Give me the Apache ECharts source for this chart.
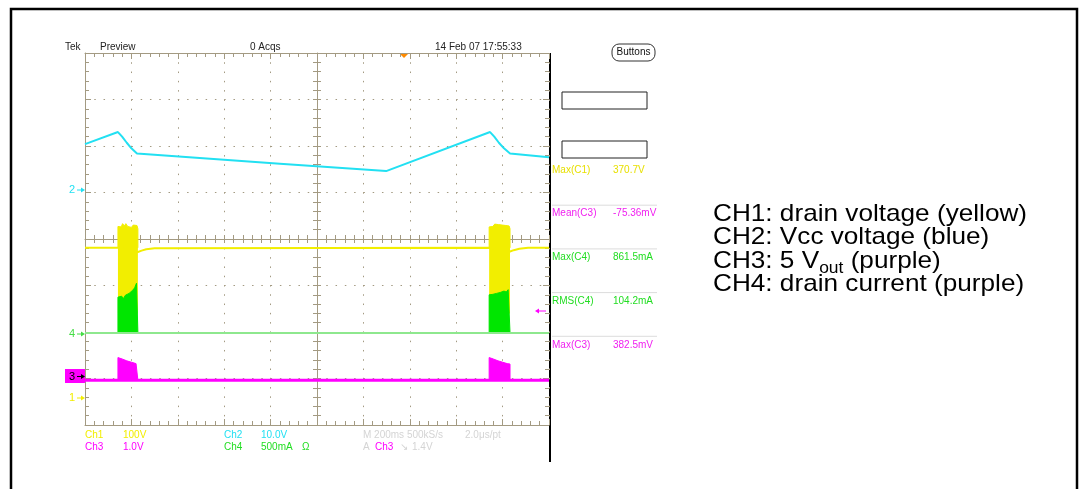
<!DOCTYPE html>
<html>
<head>
<meta charset="utf-8">
<title>Startup waveforms</title>
<script src="https://cdn.jsdelivr.net/npm/echarts@6.0.0/dist/echarts.min.js"></script>
<style>
html, body { margin: 0; padding: 0; background: #fff; }
#main { width: 1084px; height: 489px; }
</style>
</head>
<body>
<div id="main"></div>
<script>
// scope screen: 10 x 8 divisions, values are in divisions from the screen centre
var xRange = [0, 10];
var yRange = [-4, 4];

// CH2 (Vcc, blue)
var ch2Vcc = [[0, 2.04], [0.71, 2.30], [0.80, 2.20], [0.90, 2.07], [1.00, 1.95], [1.12, 1.84],
  [4.20, 1.62], [6.49, 1.46], [8.73, 2.30], [8.82, 2.20], [8.92, 2.07], [9.03, 1.95],
  [9.16, 1.84], [10, 1.76]];

// CH1 (drain voltage, yellow)
var ch1Base = [[0, -0.19], [0.71, -0.19], [1.14, -0.28], [1.22, -0.25], [1.32, -0.22],
  [1.50, -0.20], [8.71, -0.19], [9.16, -0.27], [9.24, -0.24], [9.36, -0.21], [9.55, -0.19], [10, -0.19]];
var ch1Burst1 = [[0.71, -0.19], [0.71, 0.27], [0.75, 0.31], [0.78, 0.26], [0.81, 0.33], [0.85, 0.28],
  [0.88, 0.33], [0.92, 0.27], [0.96, 0.31], [1.00, 0.25], [1.04, 0.30], [1.08, 0.27], [1.12, 0.29],
  [1.14, 0.22], [1.14, -0.19]];
var ch1Burst2 = [[8.71, -0.19], [8.71, 0.26], [8.75, 0.30], [8.79, 0.27], [8.83, 0.32], [8.87, 0.28],
  [8.91, 0.31], [8.95, 0.27], [8.99, 0.30], [9.03, 0.26], [9.07, 0.29], [9.11, 0.27], [9.14, 0.28],
  [9.16, 0.22], [9.16, -0.19]];

// CH4 (drain current, green)
var ch4Base = [[0, -2.02], [10, -2.02]];
var ch4Burst1 = [[0.71, -2.02], [0.71, -1.25], [0.75, -1.29], [0.79, -1.23], [0.83, -1.28], [0.87, -1.21],
  [0.91, -1.24], [0.95, -1.17], [0.99, -1.20], [1.03, -1.10], [1.07, -1.05], [1.11, -0.95],
  [1.14, -0.92], [1.14, -2.02]];
var ch4Burst2 = [[8.71, -2.02], [8.71, -1.20], [8.75, -1.24], [8.79, -1.19], [8.83, -1.23], [8.87, -1.17],
  [8.91, -1.20], [8.95, -1.15], [8.99, -1.18], [9.03, -1.12], [9.08, -1.14], [9.12, -1.09],
  [9.16, -1.08], [9.16, -2.02]];

// CH3 (5 Vout, purple)
var ch3Base = [[0, -3.04], [10, -3.04]];
var ch3Burst1 = [[0.71, -3.04], [0.71, -2.55], [0.80, -2.58], [0.90, -2.62], [1.00, -2.65],
  [1.10, -2.68], [1.14, -2.69], [1.14, -3.04]];
var ch3Burst2 = [[8.71, -3.04], [8.71, -2.55], [8.80, -2.58], [8.90, -2.62], [9.00, -2.65],
  [9.10, -2.68], [9.16, -2.69], [9.16, -3.04]];

// measurement panel
var measLabels = ['Max(C1)', 'Mean(C3)', 'Max(C4)', 'RMS(C4)', 'Max(C3)'];
var measValues = ['370.7V', '-75.36mV', '861.5mA', '104.2mA', '382.5mV'];
var measColors = ['#e8e000', '#f020f0', '#22dd22', '#22dd22', '#f020f0'];

// side notes
var notes = ['CH1: drain voltage (yellow)', 'CH2: Vcc voltage (blue)', 'CH3: 5 V|out| (purple)', 'CH4: drain current (purple)'];

var YELLOW = '#f2ee00', CYAN = '#22e0f2', GREEN = '#00e600', PALEGREEN = '#8ee88e', MAGENTA = '#ff00ff';
var GRID = '#a39a82';
var FONT = '"Liberation Sans", Arial, sans-serif';

function xAx(pos, offset, inside, tickLen, showLine, split) {
  return {
    type: 'value', min: xRange[0], max: xRange[1], interval: 1, position: pos, offset: offset,
    axisLine: { show: showLine, onZero: false, lineStyle: { color: GRID, width: 1 } },
    axisTick: { show: true, inside: inside, length: tickLen, lineStyle: { color: GRID } },
    minorTick: { show: true, splitNumber: 5, length: 4, lineStyle: { color: GRID } },
    axisLabel: { show: false },
    splitLine: { show: split, lineStyle: { color: GRID, width: 1, type: [1.5, 7.78] } },
    minorSplitLine: { show: false }
  };
}
function yAx(pos, offset, inside, tickLen, showLine, split) {
  var a = xAx(pos, offset, inside, tickLen, showLine, split);
  a.min = yRange[0]; a.max = yRange[1];
  return a;
}

function trace(data, color, width) {
  return { type: 'line', data: data, symbol: 'none', silent: true,
    lineStyle: { color: color, width: width }, itemStyle: { color: color } };
}
function burst(data, color, base) {
  return { type: 'line', data: data, symbol: 'none', silent: true,
    lineStyle: { color: color, width: 1 }, itemStyle: { color: color },
    areaStyle: { color: color, opacity: 1, origin: base } };
}

function txt(x, y, s, color, size, align) {
  return { type: 'text', x: x, y: y, silent: true,
    style: { text: s, fill: color, font: size + 'px ' + FONT, align: align || 'left', verticalAlign: 'middle' } };
}
// little "n ->" ground marker on the left of the screen
function marker(y, label, color) {
  return [
    txt(75, y, label, color, 11, 'right'),
    { type: 'line', silent: true, shape: { x1: 77, y1: y, x2: 82, y2: y }, style: { stroke: color, lineWidth: 1 } },
    { type: 'polygon', silent: true, shape: { points: [[81, y - 2.5], [85, y], [81, y + 2.5]] }, style: { fill: color } }
  ];
}

var graphics = [];
// outer figure frame
graphics.push({ type: 'rect', shape: { x: 11, y: 9, width: 1066, height: 500 },
  style: { fill: 'none', stroke: '#000', lineWidth: 2.5 } });
// header
graphics.push(txt(65, 47, 'Tek', '#222', 10));
graphics.push(txt(100, 47, 'Preview', '#222', 10));
graphics.push(txt(250, 47, '0 Acqs', '#222', 10));
graphics.push(txt(435, 47, '14 Feb 07 17:55:33', '#222', 10));
graphics.push({ type: 'rect', shape: { x: 612, y: 44, width: 43, height: 17, r: 7 },
  style: { fill: '#fff', stroke: '#333', lineWidth: 1 } });
graphics.push(txt(633.5, 52.5, 'Buttons', '#111', 10, 'center'));
// trigger position marker
graphics.push({ type: 'polygon', shape: { points: [[399, 53], [409, 53], [404, 58]] }, style: { fill: '#ff8a00' } });
// panel separator
graphics.push({ type: 'line', shape: { x1: 550, y1: 53, x2: 550, y2: 462 }, style: { stroke: '#000', lineWidth: 2 } });
graphics.push({ type: 'rect', shape: { x: 562, y: 92, width: 85, height: 17 }, style: { fill: '#fff', stroke: '#222', lineWidth: 1 } });
graphics.push({ type: 'rect', shape: { x: 562, y: 141, width: 85, height: 17 }, style: { fill: '#fff', stroke: '#222', lineWidth: 1 } });
// measurements
for (var i = 0; i < measLabels.length; i++) {
  var my = 170 + i * 43.7;
  graphics.push(txt(552, my, measLabels[i], measColors[i], 10));
  graphics.push(txt(613, my, measValues[i], measColors[i], 10));
  if (i > 0) {
    graphics.push({ type: 'line', shape: { x1: 552, y1: my - 8.5, x2: 657, y2: my - 8.5 },
      style: { stroke: '#dcdcdc', lineWidth: 1 } });
  }
}
// channel ground markers
graphics = graphics.concat(marker(190, '2', CYAN));
graphics = graphics.concat(marker(334, '4', '#44dd44'));
graphics.push({ type: 'rect', shape: { x: 65, y: 369, width: 20, height: 14 }, style: { fill: MAGENTA } });
graphics = graphics.concat(marker(376.5, '3', '#000'));
graphics = graphics.concat(marker(398, '1', YELLOW));
// trigger level arrow
graphics.push({ type: 'line', shape: { x1: 538, y1: 311, x2: 546, y2: 311 }, style: { stroke: MAGENTA, lineWidth: 1 } });
graphics.push({ type: 'polygon', shape: { points: [[535, 311], [539, 308.5], [539, 313.5]] }, style: { fill: MAGENTA } });
// bottom readout
graphics.push(txt(85, 435, 'Ch1', YELLOW, 10));
graphics.push(txt(123, 435, '100V', YELLOW, 10));
graphics.push(txt(224, 435, 'Ch2', CYAN, 10));
graphics.push(txt(261, 435, '10.0V', CYAN, 10));
graphics.push(txt(363, 435, 'M 200ms 500kS/s', '#d4d4d4', 10));
graphics.push(txt(465, 435, '2.0\u03bcs/pt', '#d4d4d4', 10));
graphics.push(txt(85, 447, 'Ch3', MAGENTA, 10));
graphics.push(txt(123, 447, '1.0V', MAGENTA, 10));
graphics.push(txt(224, 447, 'Ch4', '#22dd22', 10));
graphics.push(txt(261, 447, '500mA', '#22dd22', 10));
graphics.push(txt(302, 447, '\u03a9', '#22dd22', 10));
graphics.push(txt(363, 447, 'A', '#d4d4d4', 10));
graphics.push(txt(375, 447, 'Ch3', MAGENTA, 10));
graphics.push(txt(400, 447, '\u2198', '#d4d4d4', 10));
graphics.push(txt(412, 447, '1.4V', '#d4d4d4', 10));
// side notes
for (var k = 0; k < notes.length; k++) {
  var parts = notes[k].split('|');
  var rt = '{a|' + parts[0] + '}' + (parts.length > 1 ? '{s|' + parts[1] + '}{a|' + parts[2] + '}' : '');
  graphics.push({ type: 'text', x: 713, y: 214 + k * 23.6, scaleX: 1.09, silent: true,
    style: { text: rt, align: 'left', verticalAlign: 'middle',
      rich: {
        a: { fontSize: 24, fontFamily: FONT, fill: '#000', lineHeight: 30 },
        s: { fontSize: 16, fontFamily: FONT, fill: '#000', lineHeight: 16, verticalAlign: 'bottom' }
      } } });
}

var chart = echarts.init(document.getElementById('main'));
chart.setOption({
  animation: false,
  backgroundColor: '#fff',
  grid: { left: 85, top: 53, width: 464, height: 372 },
  xAxis: [
    xAx('bottom', 0, true, 6, true, true),
    xAx('top', 0, true, 6, true, false),
    xAx('bottom', -186, true, 4, true, false),
    xAx('bottom', -186, false, 4, false, false)
  ],
  yAxis: [
    yAx('left', 0, true, 6, true, true),
    yAx('right', 0, true, 6, false, false),
    yAx('left', -232, true, 4, true, false),
    yAx('left', -232, false, 4, false, false)
  ],
  series: [
    burst(ch1Burst1, YELLOW, -1.6),
    burst(ch1Burst2, YELLOW, -1.6),
    burst(ch4Burst1, GREEN, -2.02),
    burst(ch4Burst2, GREEN, -2.02),
    burst(ch3Burst1, MAGENTA, -3.04),
    burst(ch3Burst2, MAGENTA, -3.04),
    trace(ch4Base, PALEGREEN, 2),
    trace(ch3Base, MAGENTA, 3),
    trace(ch1Base, YELLOW, 2),
    trace(ch2Vcc, CYAN, 2)
  ],
  graphic: graphics
});
</script>
</body>
</html>
